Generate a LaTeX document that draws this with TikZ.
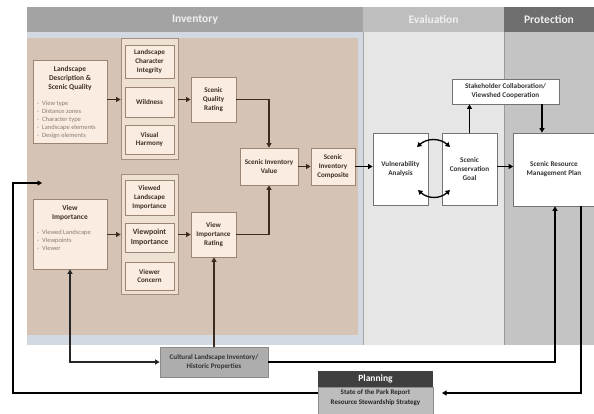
\documentclass[tikz,border=0pt]{standalone}
\usepackage{fontspec}
\setmainfont{Carlito}
\usetikzlibrary{arrows.meta}
\definecolor{boxfill}{HTML}{FBECE1}
\definecolor{boxline}{HTML}{9C8575}
\definecolor{grpfill}{HTML}{EFE0D4}
\definecolor{grpline}{HTML}{A48F80}
\definecolor{boxtext}{HTML}{3E3027}
\definecolor{bultext}{HTML}{8A7A70}
\definecolor{brownbg}{HTML}{D5C3B5}
\definecolor{invbg}{HTML}{D3D9E0}
\definecolor{evbg}{HTML}{E6E6E6}
\definecolor{prbg}{HTML}{C4C4C4}
\definecolor{hinvc}{HTML}{A3A3A3}
\definecolor{hevc}{HTML}{BEBEBE}
\definecolor{hprc}{HTML}{6E6E6E}
\definecolor{arrbrown}{HTML}{3D2B1F}
\definecolor{clifill}{HTML}{ADADAD}
\definecolor{cliline}{HTML}{8A8A8A}
\definecolor{plhead}{HTML}{3F3F3F}
\definecolor{plbody}{HTML}{BDBDBD}
\begin{document}
\begin{tikzpicture}[x=1pt,y=-1pt,
  bx/.style={draw=boxline, fill=boxfill, line width=0.8pt, inner sep=1pt, align=center,
    font=\fontsize{7.1}{8.8}\selectfont\bfseries, text=boxtext},
  grp/.style={draw=grpline, fill=grpfill, line width=0.8pt, inner sep=0pt},
  wbx/.style={draw=black!55, fill=white, line width=0.8pt, inner sep=1pt, align=center,
    font=\fontsize{7.2}{9}\selectfont\bfseries, text=black!80},
  ttl/.style={inner sep=0pt, align=center, font=\fontsize{7.4}{8.9}\selectfont\bfseries, text=boxtext},
  bul/.style={inner sep=0pt, align=left, font=\fontsize{6.5}{8}\selectfont, text=bultext},
  hdr/.style={inner sep=0pt, font=\fontsize{11.5}{13}\selectfont\bfseries, text=white!94!black},
  iarr/.style={draw=arrbrown, line width=1.6pt, -{Triangle[length=4.5pt,width=5pt]}},
  barr/.style={draw=black, line width=1.3pt, -{Triangle[length=4.5pt,width=5pt]}},
  bboth/.style={draw=black, line width=1.3pt, {Triangle[length=4.5pt,width=5pt]}-{Triangle[length=4.5pt,width=5pt]}},
  dboth/.style={draw=black!85, line width=1.3pt, {Triangle[length=4.5pt,width=5pt]}-{Triangle[length=4.5pt,width=5pt]}}
]
\useasboundingbox (0,0) rectangle (594,414);
\fill[white] (0,0) rectangle (594,414);

% column backgrounds
\fill[invbg] (27,32) rectangle (363,345);
\fill[brownbg] (27,38) rectangle (358,335);
\fill[evbg] (363,32) rectangle (504,345);
\fill[prbg] (504,32) rectangle (594,345);
\draw[black!35, line width=0.6pt] (363,32) -- (363,345);
\draw[black!40, line width=0.6pt] (504,32) -- (504,345);

% headers
\node[hdr, fill=hinvc, minimum width=336pt, minimum height=25pt] (hinv) at (195,19.5) {Inventory};
\node[hdr, fill=hevc, minimum width=141pt, minimum height=25pt] (hev) at (433.5,19.5) {Evaluation};
\node[hdr, fill=hprc, minimum width=90pt, minimum height=25pt] (hpr) at (549,19.5) {Protection};

% Landscape description
\node[bx, minimum width=74pt, minimum height=83pt] (ld) at (70,101.5) {};
\node[ttl, anchor=north] (ldt) at (70,66.5) {Landscape\\Description \&\\Scenic Quality};
\node[bul, anchor=north west] (ldb) at (37,100.5) {-\ \ View type\\-\ \ Distance zones\\-\ \ Character type\\-\ \ Landscape elements\\-\ \ Design elements};

% group 1
\node[grp, minimum width=57pt, minimum height=121pt] (g1) at (149.5,98.5) {};
\node[bx, minimum width=49pt, minimum height=33pt] (lci) at (149.5,61.5) {Landscape\\Character\\Integrity};
\node[bx, minimum width=49pt, minimum height=30pt] (wild) at (149.5,102) {Wildness};
\node[bx, minimum width=49pt, minimum height=29pt] (vh) at (149.5,139.5) {Visual\\Harmony};

\node[bx, minimum width=45pt, minimum height=45pt] (sqr) at (213.5,99.5) {Scenic\\Quality\\Rating};
\node[bx, minimum width=58pt, minimum height=37pt] (siv) at (269,166.5) {Scenic Inventory\\Value};
\node[bx, minimum width=44pt, minimum height=37pt] (sic) at (333,166.5) {Scenic\\Inventory\\Composite};

% View importance
\node[bx, minimum width=74pt, minimum height=70pt] (vi) at (70,234) {};
\node[ttl, anchor=north] (vit) at (70,205) {View\\Importance};
\node[bul, anchor=north west] (vib) at (37,229.5) {-\ \ Viewed Landscape\\-\ \ Viewpoints\\-\ \ Viewer};

% group 2
\node[grp, minimum width=57pt, minimum height=120pt] (g2) at (149.5,234) {};
\node[bx, minimum width=49pt, minimum height=35pt] (vli) at (149.5,197.5) {Viewed\\Landscape\\Importance};
\node[bx, minimum width=49pt, minimum height=29pt, font=\fontsize{7.8}{9.4}\selectfont\bfseries] (vpi) at (149.5,237.5) {Viewpoint\\Importance};
\node[bx, minimum width=49pt, minimum height=28pt] (vc) at (149.5,276) {Viewer\\Concern};

\node[bx, minimum width=45pt, minimum height=45pt] (vir) at (213.5,234.5) {View\\Importance\\Rating};

% Evaluation / protection
\node[wbx, minimum width=55pt, minimum height=72pt] (va) at (400.5,169) {Vulnerability\\Analysis};
\node[wbx, minimum width=55pt, minimum height=72pt] (scg) at (469.5,169) {Scenic\\Conservation\\Goal};
\node[wbx, minimum width=107pt, minimum height=25pt] (stake) at (505.5,91.5) {Stakeholder Collaboration/\\Viewshed Cooperation};
\node[wbx, minimum width=81pt, minimum height=73pt] (srmp) at (554,169.5) {Scenic Resource\\Management Plan};

% bottom boxes
\node[draw=cliline, fill=clifill, line width=0.8pt, minimum width=108pt, minimum height=30pt, align=center,
  font=\fontsize{7.1}{9.4}\selectfont\bfseries, text=black!80] (cli) at (214,362) {Cultural Landscape Inventory/\\Historic Properties};
\node[draw=black!45, fill=plbody, line width=0.6pt, minimum width=115pt, minimum height=33pt] (plb) at (375.5,403.5) {};
\node[fill=plhead, minimum width=115pt, minimum height=16pt, inner sep=0pt,
  font=\fontsize{9.5}{11}\selectfont\bfseries, text=white] (plh) at (375.5,379) {Planning};
\node[inner sep=0pt, align=center, font=\fontsize{7}{9.8}\selectfont\bfseries, text=black!85] (plt) at (375.5,398) {State of the Park Report\\Resource Stewardship Strategy};

% helper coordinates
\coordinate (x542) at (542,0);
\coordinate (x555) at (555,0);
\coordinate (x581) at (581,0);
\coordinate (y393) at (0,393);
\coordinate (lcorner) at (13,183);
\coordinate (lend) at (42,183);
\coordinate (pend) at (442,393);
\coordinate (ct1) at (417,147);
\coordinate (ct2) at (450,147);
\coordinate (cb1) at (418,190);
\coordinate (cb2) at (450,190);

% inventory connectors
\draw[iarr] (ld.east |- sqr.west) -- (g1.west |- sqr.west);
\draw[iarr] (g1.east |- sqr.west) -- (sqr.west);
\draw[iarr] (sqr.east) -| (siv.north);
\draw[iarr] (vi.east |- vir.west) -- (g2.west |- vir.west);
\draw[iarr] (g2.east |- vir.west) -- (vir.west);
\draw[iarr] (vir.east) -| (siv.south);
\draw[iarr] (siv.east) -- (sic.west);
\draw[iarr] (cli.north) -- (cli.north |- vir.south);
\draw[dboth] (vi.south) |- (cli.west);

% evaluation connectors
\draw[barr] (sic.east) -- (va.west |- sic.east);
\draw[bboth] (ct1) .. controls (427,138) and (440,138) .. (ct2);
\draw[bboth] (cb1) .. controls (428,199) and (440,199) .. (cb2);
\draw[barr] (scg.north) -- (scg.north |- stake.south);
\draw[barr] (stake.south -| x542) -- (srmp.north -| x542);
\draw[barr] (scg.east |- sic.east) -- (srmp.west |- sic.east);
\draw[barr] (cli.east) -| (srmp.south -| x555);
\draw[barr] (srmp.south -| x581) |- (pend);
\draw[barr] (plb.west |- y393) -| (lcorner) -- (lend);
\end{tikzpicture}
\end{document}
